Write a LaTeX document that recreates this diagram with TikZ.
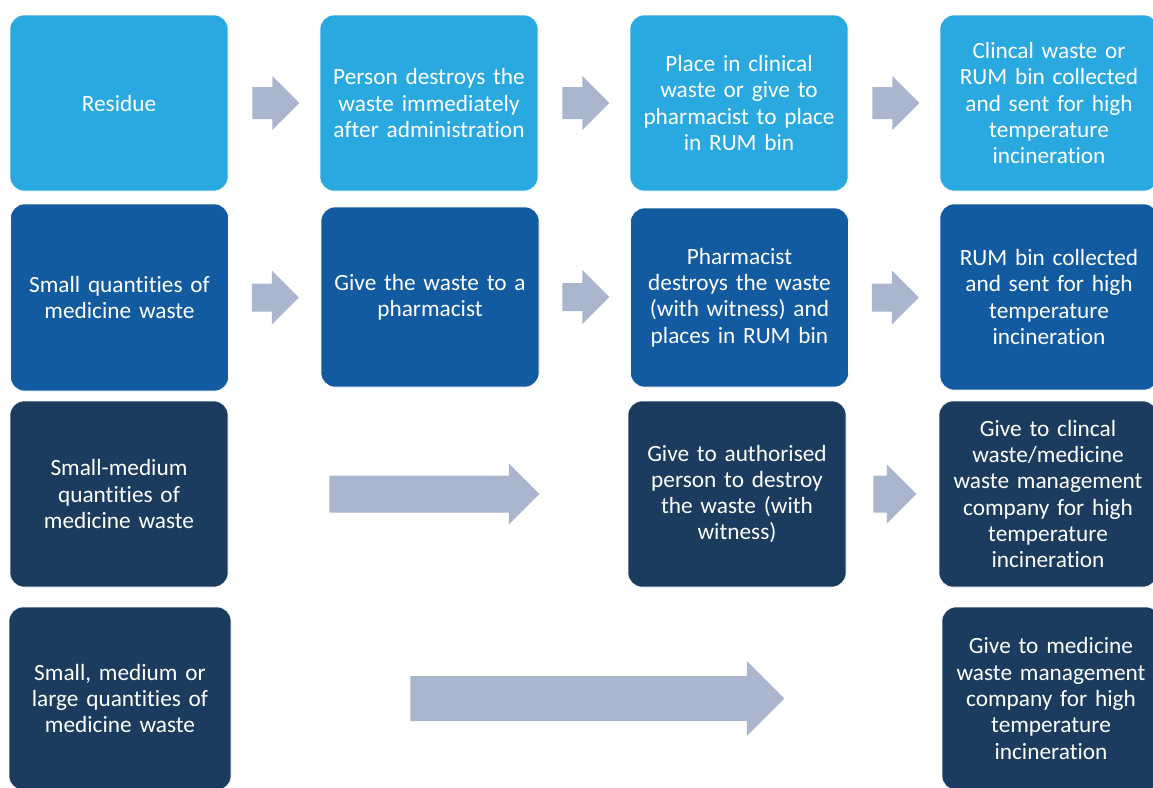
\documentclass[tikz,border=0pt]{standalone}
\usepackage{fontspec}
\setmainfont[Ligatures=NoCommon]{Carlito}
\usepackage{xcolor}
\usepackage{tikz}
\usetikzlibrary{
    positioning,
    calc
}
\definecolor{rowone}{HTML}{29A9E0}
\definecolor{rowtwo}{HTML}{125BA1}
\definecolor{rowdark}{HTML}{1B3C5F}
\definecolor{arrowgrey}{HTML}{AAB6CE}

% block arrow: start node, gap, length, body half height, head half height
\newcommand{\flowarrow}[5]{%
    \path ($(#1.east)+(#2,0)$) coordinate (as) ($(as)+(#3,0)$) coordinate (at);
    \fill[arrowgrey] ($(as)+(0,-#4)$) -- ($(at)+(-#5,-#4)$) -- ($(at)+(-#5,-#5)$) -- (at)
        -- ($(at)+(-#5,#5)$) -- ($(at)+(-#5,#4)$) -- ($(as)+(0,#4)$) -- cycle;
}

\begin{document}
\begin{tikzpicture}[x=1pt, y=-1pt,
    box/.style={rounded corners=14pt, minimum width=218pt, text width=214pt, inner sep=2pt,
        align=center, text=white, draw=white, line width=0.6pt,
        font=\fontsize{23.3}{26.3}\selectfont}]
    \fill[white] (0,0) rectangle (1153,787);
    \useasboundingbox (0,0) rectangle (1153,787);

    % first row
    \node[box, fill=rowone, minimum height=176pt] (r1c1) at (119,103) {Residue};
    \node[box, fill=rowone, minimum height=176pt] (r1c2) at (429,103) {Person destroys the\\waste immediately\\after administration};
    \node[box, fill=rowone, minimum height=176pt] (r1c3) at (739,103) {Place in clinical\\waste or give to\\pharmacist to place\\in RUM bin};
    \node[box, fill=rowone, minimum height=176pt] (r1c4) at (1049,103) {Clincal waste or\\RUM bin collected\\and sent for high\\temperature\\incineration};

    % second row
    \node[box, fill=rowtwo, minimum height=187pt] (r2c1) at (119.5,297.5) {Small quantities of\\medicine waste};
    \node[box, fill=rowtwo, minimum height=180pt] (r2c2) at (430,297) {Give the waste to a\\pharmacist};
    \node[box, fill=rowtwo, minimum height=179pt] (r2c3) at (739.5,297.5) {Pharmacist\\destroys the waste\\(with witness) and\\places in RUM bin};
    \node[box, fill=rowtwo, minimum height=186pt] (r2c4) at (1049,297) {RUM bin collected\\and sent for high\\temperature\\incineration};

    % third row
    \node[box, fill=rowdark, minimum height=186pt] (r3c1) at (119,494) {Small-medium\\quantities of\\medicine waste};
    \node[box, fill=rowdark, minimum height=186pt] (r3c3) at (737,494) {Give to authorised\\person to destroy\\the waste (with\\witness)};
    \node[box, fill=rowdark, minimum height=186pt] (r3c4) at (1048,494) {Give to clincal\\waste/medicine\\waste management\\company for high\\temperature\\incineration};

    % fourth row
    \node[box, fill=rowdark, minimum height=183pt, minimum width=222pt] (r4c1) at (120,698.5) {Small, medium or\\large quantities of\\medicine waste};
    \node[box, fill=rowdark, minimum height=183pt] (r4c4) at (1051,698.5) {Give to medicine\\waste management\\company for high\\temperature\\incineration};

    \flowarrow{r1c1}{24}{47}{16}{27}
    \flowarrow{r1c2}{24}{47}{16}{27}
    \flowarrow{r1c3}{24}{47}{16}{27}
    \flowarrow{r2c1}{23}{47}{14}{27}
    \flowarrow{r2c2}{23}{47}{14}{27}
    \flowarrow{r2c3}{23}{47}{14}{27}
    \flowarrow{r3c1}{101}{210}{18.5}{30.5}
    \flowarrow{r3c3}{27}{43}{18.5}{29.5}
    \flowarrow{r4c1}{179}{374}{22.5}{37.5}
\end{tikzpicture}
\end{document}
